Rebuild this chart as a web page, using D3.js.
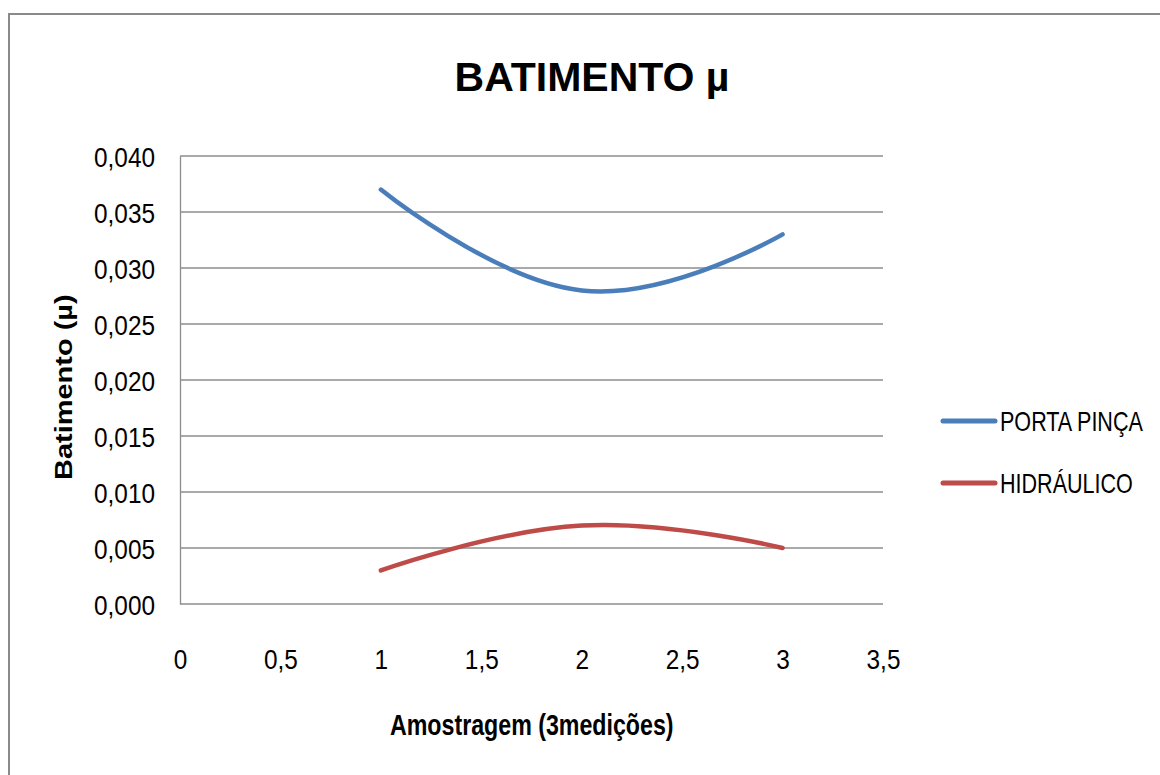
<!DOCTYPE html>
<html>
<head>
<meta charset="utf-8">
<script src="https://cdn.jsdelivr.net/npm/d3@7"></script>
<style>
  html, body { margin: 0; padding: 0; background: #fff; }
  svg { display: block; }
  text { font-family: "Liberation Sans", Arial, sans-serif; fill: #000; }
</style>
</head>
<body>
<svg id="chart" width="1160" height="775"></svg>
<script>
// Samples (x) and runout readings for each tool holder
const amostras = [1, 2, 3];
const portaPinca = [0.037, 0.028, 0.033];
const hidraulico = [0.003, 0.007, 0.005];
const seriesNames = ["PORTA PINÇA", "HIDRÁULICO"];
const seriesColors = ["#4A7EBB", "#BE4B48"];
const yTicks = [0, 0.005, 0.010, 0.015, 0.020, 0.025, 0.030, 0.035, 0.040];
const xTicks = [0, 0.5, 1, 1.5, 2, 2.5, 3, 3.5];

const svg = d3.select("#chart");
const plot = { left: 180, right: 883, top: 156, bottom: 604 };
const squeeze = 0.87;       // horizontal compression of the tick label glyphs
const legendSqueeze = 0.77; // horizontal compression of the legend labels

const x = d3.scaleLinear().domain([0, 3.5]).range([plot.left, plot.right]);
const y = d3.scaleLinear().domain([0, 0.04]).range([plot.bottom, plot.top]);

const fmtY = v => d3.format(".3f")(v).replace(".", ",");
const fmtX = v => String(v).replace(".", ",");

// Outer chart frame
svg.append("rect")
  .attr("x", 9).attr("y", 14)
  .attr("width", 1200).attr("height", 800)
  .attr("fill", "none").attr("stroke", "#8a8a8a").attr("stroke-width", 2);

// Title
svg.append("text")
  .attr("x", 592).attr("y", 91)
  .attr("text-anchor", "middle")
  .attr("font-weight", "bold")
  .attr("font-size", 41)
  .text("BATIMENTO µ");

// Horizontal gridlines
svg.append("g")
  .selectAll("line")
  .data(yTicks)
  .join("line")
  .attr("x1", plot.left).attr("x2", plot.right)
  .attr("y1", d => y(d)).attr("y2", d => y(d))
  .attr("stroke", "#8c8c8c").attr("stroke-width", 1.3);

// Y axis (line only, no tick marks)
const yAxis = svg.append("g")
  .attr("transform", `translate(${plot.left},0)`)
  .call(d3.axisLeft(y).tickValues(yTicks).tickFormat(fmtY).tickSize(0));
yAxis.select(".domain").attr("stroke", "#8c8c8c").attr("stroke-width", 1.3);
yAxis.selectAll(".tick text")
  .attr("font-size", 28)
  .attr("x", -25 / squeeze)
  .attr("y", 10)
  .attr("dy", null)
  .attr("transform", `scale(${squeeze},1)`);
yAxis.attr("font-family", null).attr("font-size", null);

// X axis labels (the zero gridline serves as the axis line)
const xAxis = svg.append("g")
  .attr("transform", `translate(0,${plot.bottom})`)
  .call(d3.axisBottom(x).tickValues(xTicks).tickFormat(fmtX).tickSize(0));
xAxis.select(".domain").remove();
xAxis.selectAll(".tick text")
  .attr("font-size", 28)
  .attr("y", 65)
  .attr("dy", null)
  .attr("transform", `scale(${squeeze},1)`);
xAxis.attr("font-family", null).attr("font-size", null);

// Axis titles
svg.append("text")
  .attr("transform", "translate(390,735) scale(0.8,1)")
  .attr("font-weight", "bold")
  .attr("font-size", 29)
  .text("Amostragem (3medições)");

svg.append("text")
  .attr("transform", "translate(72,480) rotate(-90) scale(1.26,1)")
  .attr("font-weight", "bold")
  .attr("font-size", 23)
  .text("Batimento (µ)");

// Smoothed series lines
const series = [portaPinca, hidraulico];
const line = d3.line()
  .x((d, i) => x(amostras[i]))
  .y(d => y(d))
  .curve(d3.curveCardinal.tension(-0.3));

svg.append("g")
  .selectAll("path")
  .data(series)
  .join("path")
  .attr("d", d => line(d))
  .attr("fill", "none")
  .attr("stroke", (d, i) => seriesColors[i])
  .attr("stroke-width", 4.5)
  .attr("stroke-linecap", "round");

// Legend
const legend = svg.append("g")
  .selectAll("g")
  .data(seriesNames)
  .join("g")
  .attr("transform", (d, i) => `translate(943,${421 + i * 62})`);
legend.append("line")
  .attr("x1", 0).attr("x2", 52)
  .attr("stroke", (d, i) => seriesColors[i])
  .attr("stroke-width", 5)
  .attr("stroke-linecap", "round");
legend.append("text")
  .attr("transform", `translate(57,10) scale(${legendSqueeze},1)`)
  .attr("font-size", 28)
  .text(d => d);
</script>
</body>
</html>
